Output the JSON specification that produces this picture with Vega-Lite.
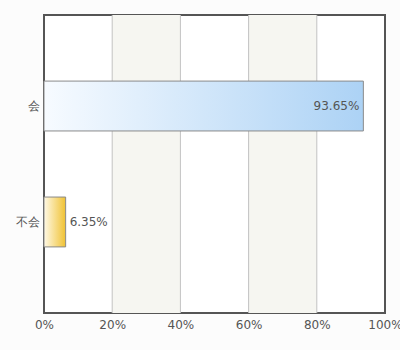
{
  "$schema": "https://vega.github.io/schema/vega-lite/v6.json",
  "autosize": {"type": "none"},
  "width": 341,
  "height": 298,
  "padding": {"left": 44, "top": 15, "right": 15, "bottom": 37},
  "background": "#fcfcfc",
  "config": {
    "view": {"stroke": "#555555", "strokeWidth": 2, "fill": "#ffffff"},
    "font": "DejaVu Sans",
    "axis": {"labelColor": "#555555", "labelFontSize": 12, "labelFont": "DejaVu Sans", "domain": false, "ticks": false, "grid": false, "title": null}
  },
  "datasets": {
    "answers": [
      {"cat": "会", "share": 0.9365},
      {"cat": "不会", "share": 0.0635}
    ],
    "bands": [
      {"from": 0.2, "to": 0.4},
      {"from": 0.6, "to": 0.8}
    ]
  },
  "layer": [
    {
      "data": {"name": "bands"},
      "mark": {"type": "rect", "fill": "#f6f6f1"},
      "encoding": {
        "x": {"field": "from", "type": "quantitative", "scale": {"domain": [0, 1], "nice": false}, "axis": {"format": "%", "values": [0, 0.2, 0.4, 0.6, 0.8, 1], "labelPadding": 6, "labelFlush": false}},
        "x2": {"field": "to"}
      }
    },
    {
      "data": {"name": "bands"},
      "mark": {"type": "rule", "stroke": "#c2c2c2", "strokeWidth": 1},
      "encoding": {"x": {"field": "from", "type": "quantitative"}}
    },
    {
      "data": {"name": "bands"},
      "mark": {"type": "rule", "stroke": "#c2c2c2", "strokeWidth": 1},
      "encoding": {"x": {"field": "to", "type": "quantitative"}}
    },
    {
      "data": {"name": "answers"},
      "transform": [{"filter": "datum.cat === '会'"}],
      "mark": {"type": "bar", "stroke": "#8a8a8a", "strokeWidth": 1,
        "color": {"gradient": "linear", "x1": 0, "y1": 0, "x2": 1, "y2": 0,
          "stops": [{"offset": 0, "color": "#f7fbff"}, {"offset": 1, "color": "#acd2f5"}]}},
      "encoding": {
        "x": {"field": "share", "type": "quantitative"},
        "y": {"field": "cat", "type": "nominal", "sort": ["会", "不会"], "scale": {"paddingInner": 0.57, "paddingOuter": 0.57}, "axis": {"labelPadding": 5}}
      }
    },
    {
      "data": {"name": "answers"},
      "transform": [{"filter": "datum.cat === '不会'"}],
      "mark": {"type": "bar", "stroke": "#8a8a8a", "strokeWidth": 1,
        "color": {"gradient": "linear", "x1": 0, "y1": 0, "x2": 1, "y2": 0,
          "stops": [{"offset": 0, "color": "#fff9e6"}, {"offset": 1, "color": "#f0c233"}]}},
      "encoding": {
        "x": {"field": "share", "type": "quantitative"},
        "y": {"field": "cat", "type": "nominal", "sort": ["会", "不会"]}
      }
    },
    {
      "data": {"name": "answers"},
      "transform": [{"filter": "datum.share > 0.5"}],
      "mark": {"type": "text", "align": "right", "dx": -4, "fontSize": 12, "color": "#555555"},
      "encoding": {
        "x": {"field": "share", "type": "quantitative"},
        "y": {"field": "cat", "type": "nominal", "sort": ["会", "不会"]},
        "text": {"field": "share", "format": ".2%"}
      }
    },
    {
      "data": {"name": "answers"},
      "transform": [{"filter": "datum.share <= 0.5"}],
      "mark": {"type": "text", "align": "left", "dx": 4, "fontSize": 12, "color": "#555555"},
      "encoding": {
        "x": {"field": "share", "type": "quantitative"},
        "y": {"field": "cat", "type": "nominal", "sort": ["会", "不会"]},
        "text": {"field": "share", "format": ".2%"}
      }
    }
  ]
}
